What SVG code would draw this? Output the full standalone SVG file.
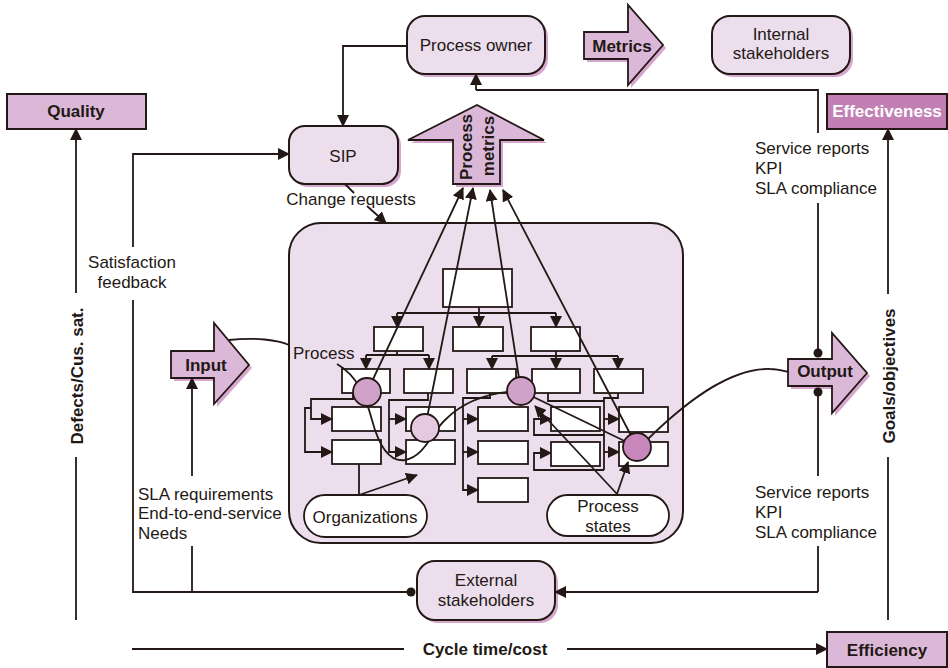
<svg xmlns="http://www.w3.org/2000/svg" width="948" height="668" viewBox="0 0 948 668">
<style>
text{font-family:"Liberation Sans",Arial,Helvetica,sans-serif;font-size:17px;fill:#231815}
.b{font-weight:bold}
.m{text-anchor:middle}
.w{fill:#ffffff}
.node{fill:#ecdeed;stroke:#231815;stroke-width:2}
.sh{fill:#d7a6ce;stroke:none}
.arr{fill:#dbb8d8;stroke:#231815;stroke-width:1.8}
.box{fill:#ffffff;stroke:#231815;stroke-width:1.8}
.ln{fill:none;stroke:#231815;stroke-width:1.8}
.ma{marker-end:url(#ah)}
</style>
<defs>
<marker id="ah" markerUnits="userSpaceOnUse" markerWidth="12" markerHeight="12" refX="11" refY="6" orient="auto">
<path d="M0,0 L12,6 L0,12 z" fill="#231815"/>
</marker>
</defs>
<rect width="948" height="668" fill="#ffffff"/>

<g id="main-process-box">
<rect x="289" y="223" width="394" height="320" rx="32" class="node"/>
</g>

<g id="process-owner">
<rect x="410" y="19" width="138" height="58" rx="18" class="sh"/>
<rect x="407" y="16" width="138" height="58" rx="18" class="node"/>
<text x="476" y="51" class="m">Process owner</text>
</g>

<g id="metrics">
<polygon points="587,35 631,35 631,8 666,48 631,88 631,62 587,62" class="sh"/>
<polygon points="584,32 628,32 628,5 663,45 628,85 628,59 584,59" class="arr"/>
<text x="622" y="52" class="m b">Metrics</text>
</g>

<g id="internal-stakeholders">
<rect x="715" y="19" width="138" height="58" rx="18" class="sh"/>
<rect x="712" y="16" width="138" height="58" rx="18" class="node"/>
<text x="781" y="40" class="m">Internal</text>
<text x="781" y="59" class="m">stakeholders</text>
</g>

<g id="quality">
<rect x="7" y="94" width="139" height="35" fill="#dbb8d8" stroke="#231815" stroke-width="2"/>
<text x="76" y="117" class="m b">Quality</text>
</g>

<g id="effectiveness">
<rect x="827" y="94" width="120" height="35" fill="#c27fb4" stroke="#231815" stroke-width="2"/>
<text x="887" y="117" class="m b w">Effectiveness</text>
</g>

<g id="efficiency">
<rect x="827" y="632" width="120" height="35" fill="#dbb8d8" stroke="#231815" stroke-width="2"/>
<text x="887" y="656" class="m b">Efficiency</text>
</g>

<g id="sip">
<rect x="292" y="129" width="109" height="58" rx="16" class="sh"/>
<rect x="289" y="126" width="109" height="58" rx="16" class="node"/>
<text x="343" y="162" class="m">SIP</text>
</g>

<g id="process-metrics">
<polygon points="456,187 456,143 411,143 480,108 547,143 503,143 503,187" class="sh"/>
<polygon points="453,184 453,140 408,140 477,105 544,140 500,140 500,184" class="arr"/>
<text transform="translate(472,147) rotate(-90)" class="m b">Process</text>
<text transform="translate(494,146) rotate(-90)" class="m b">metrics</text>
</g>

<g id="input">
<polygon points="174,354 217,354 217,326 252,368 217,407 217,381 174,381" class="sh"/>
<polygon points="171,351 214,351 214,323 249,365 214,404 214,378 171,378" class="arr"/>
<text x="206" y="371" class="m b">Input</text>
</g>

<g id="output">
<polygon points="791,362 835,362 835,336 870,376 835,416 835,389 791,389" class="sh"/>
<polygon points="788,359 832,359 832,333 867,373 832,413 832,386 788,386" class="arr"/>
<text x="825" y="377" class="m b">Output</text>
</g>

<g id="external-stakeholders">
<rect x="420" y="564" width="138" height="59" rx="18" class="sh"/>
<rect x="417" y="561" width="138" height="59" rx="18" class="node"/>
<text x="486" y="586" class="m">External</text>
<text x="486" y="606" class="m">stakeholders</text>
</g>

<g id="org-chart">
<rect x="443" y="269" width="69" height="38" class="box"/>
<rect x="374" y="327" width="49" height="24" class="box"/>
<rect x="453" y="327" width="50" height="24" class="box"/>
<rect x="531" y="327" width="49" height="24" class="box"/>
<rect x="342" y="369" width="48" height="24" class="box"/>
<rect x="404" y="369" width="49" height="24" class="box"/>
<rect x="467" y="369" width="49" height="24" class="box"/>
<rect x="532" y="369" width="48" height="24" class="box"/>
<rect x="594" y="369" width="49" height="24" class="box"/>
<rect x="332" y="407" width="49" height="24" class="box"/>
<rect x="332" y="440" width="49" height="24" class="box"/>
<rect x="406" y="407" width="49" height="24" class="box"/>
<rect x="406" y="440" width="49" height="24" class="box"/>
<rect x="478" y="407" width="50" height="24" class="box"/>
<rect x="478" y="441" width="50" height="23" class="box"/>
<rect x="478" y="478" width="50" height="24" class="box"/>
<rect x="551" y="407" width="49" height="24" class="box"/>
<rect x="551" y="442" width="49" height="24" class="box"/>
<rect x="619" y="407" width="49" height="25" class="box"/>
<rect x="619" y="442" width="49" height="24" class="box"/>
</g>

<g id="organizations">
<rect x="304" y="495" width="123" height="42" rx="21" class="box"/>
<text x="365" y="523" class="m">Organizations</text>
</g>

<g id="process-states">
<rect x="547" y="495" width="122" height="41" rx="20.5" class="box"/>
<text x="608" y="512" class="m">Process</text>
<text x="608" y="532" class="m">states</text>
</g>

<g id="connectors">
<!-- org chart tree -->
<path d="M479,307 V313 M397,313 H556" class="ln"/>
<path d="M397,313 V327" class="ln ma"/>
<path d="M479,313 V327" class="ln ma"/>
<path d="M556,313 V327" class="ln ma"/>
<path d="M397,351 V355 M366,355 H429" class="ln"/>
<path d="M366,355 V369" class="ln ma"/>
<path d="M429,355 V369" class="ln ma"/>
<path d="M556,351 V356 M492,356 H618" class="ln"/>
<path d="M492,356 V369" class="ln ma"/>
<path d="M556,356 V369" class="ln ma"/>
<path d="M618,356 V369" class="ln ma"/>
<path d="M353,393 V399 H311 V419 H332" class="ln ma"/>
<path d="M311,408 H305 V452 H332" class="ln ma"/>
<path d="M428,393 V400 H389 V452 H406" class="ln ma"/>
<path d="M389,419 H406" class="ln ma"/>
<path d="M490,393 V398 H463 V490 H478" class="ln ma"/>
<path d="M463,419 H478" class="ln ma"/>
<path d="M463,452 H478" class="ln ma"/>
<path d="M548,393 V401 H604 M618,393 V398 H604 V470" class="ln"/>
<path d="M604,419 H619" class="ln ma"/>
<path d="M604,452 H619" class="ln ma"/>
<path d="M604,435 H534 V419 H551" class="ln ma"/>
<path d="M604,470 H534 V453 H551" class="ln ma"/>
<!-- organizations -->
<path d="M359,464 V495" class="ln"/>
<path d="M359,495 L417,475" class="ln ma"/>
<!-- process flow -->
<path d="M337,364 C358,376 366,398 372,420 C380,450 392,462 405,460 C425,456 432,432 445,420 C465,400 490,392 521,391" class="ln"/>
<path d="M521,391 L637,447" class="ln"/>
<path d="M648,439 C695,393 735,368 770,369 C778,369 784,371 788,372" class="ln"/>
<path d="M229,340 C255,337 278,340 289,345" class="ln"/>
<!-- process states arrows -->
<path d="M617,494 L535,406" class="ln ma"/>
<path d="M617,494 L628,462" class="ln ma"/>
<!-- process metrics lines -->
<path d="M367,392 L463,188" class="ln ma"/>
<path d="M425,428 L473,188" class="ln ma"/>
<path d="M521,391 L490,190" class="ln ma"/>
<path d="M637,447 L503,190" class="ln ma"/>
<!-- outer -->
<path d="M407,46 H343 V126" class="ln ma"/>
<path d="M133,247 V154 H289" class="ln ma"/>
<path d="M133,300 V592 H411" class="ln"/>
<circle cx="411" cy="592" r="4.5" fill="#231815"/>
<path d="M192,476 V378" class="ln ma"/>
<path d="M192,546 V592" class="ln"/>
<path d="M818,353 V203 M818,133 V90 H476" class="ln"/>
<path d="M476,90 V74" class="ln ma"/>
<circle cx="818" cy="353" r="4.5" fill="#231815"/>
<path d="M818,392 V476 M818,546 V592" class="ln"/>
<path d="M818,592 H555" class="ln ma"/>
<circle cx="818" cy="392" r="4.5" fill="#231815"/>
<path d="M76,293 V129" class="ln ma"/>
<path d="M76,457 V620" class="ln"/>
<path d="M888,294 V129" class="ln ma"/>
<path d="M888,457 V620" class="ln"/>
<path d="M132,649 H404" class="ln"/>
<path d="M567,649 H827" class="ln ma"/>
<path d="M345,184 L354,193" class="ln"/>
<path d="M367,206 L386,223" class="ln ma"/>
</g>

<g id="process-state-circles">
<circle cx="367" cy="392" r="14" fill="#d0a2c9" stroke="#231815" stroke-width="1.8"/>
<circle cx="425" cy="428" r="14" fill="#e4c9e1" stroke="#231815" stroke-width="1.8"/>
<circle cx="521" cy="391" r="14" fill="#d0a2c9" stroke="#231815" stroke-width="1.8"/>
<circle cx="637" cy="447" r="14" fill="#c888bc" stroke="#231815" stroke-width="1.8"/>
</g>

<g id="labels">
<text x="293" y="359">Process</text>
<text x="351" y="205" class="m">Change requests</text>
<text x="132" y="268" class="m">Satisfaction</text>
<text x="132" y="288" class="m">feedback</text>
<text x="138" y="500">SLA requirements</text>
<text x="138" y="519">End-to-end-service</text>
<text x="138" y="539">Needs</text>
<text x="755" y="154">Service reports</text>
<text x="755" y="174">KPI</text>
<text x="755" y="194">SLA compliance</text>
<text x="755" y="498">Service reports</text>
<text x="755" y="518">KPI</text>
<text x="755" y="538">SLA compliance</text>
<text x="485" y="655" class="m b">Cycle time/cost</text>
<text transform="translate(83,376) rotate(-90)" class="m b">Defects/Cus. sat.</text>
<text transform="translate(895,376) rotate(-90)" class="m b">Goals/objectives</text>
</g>
</svg>
